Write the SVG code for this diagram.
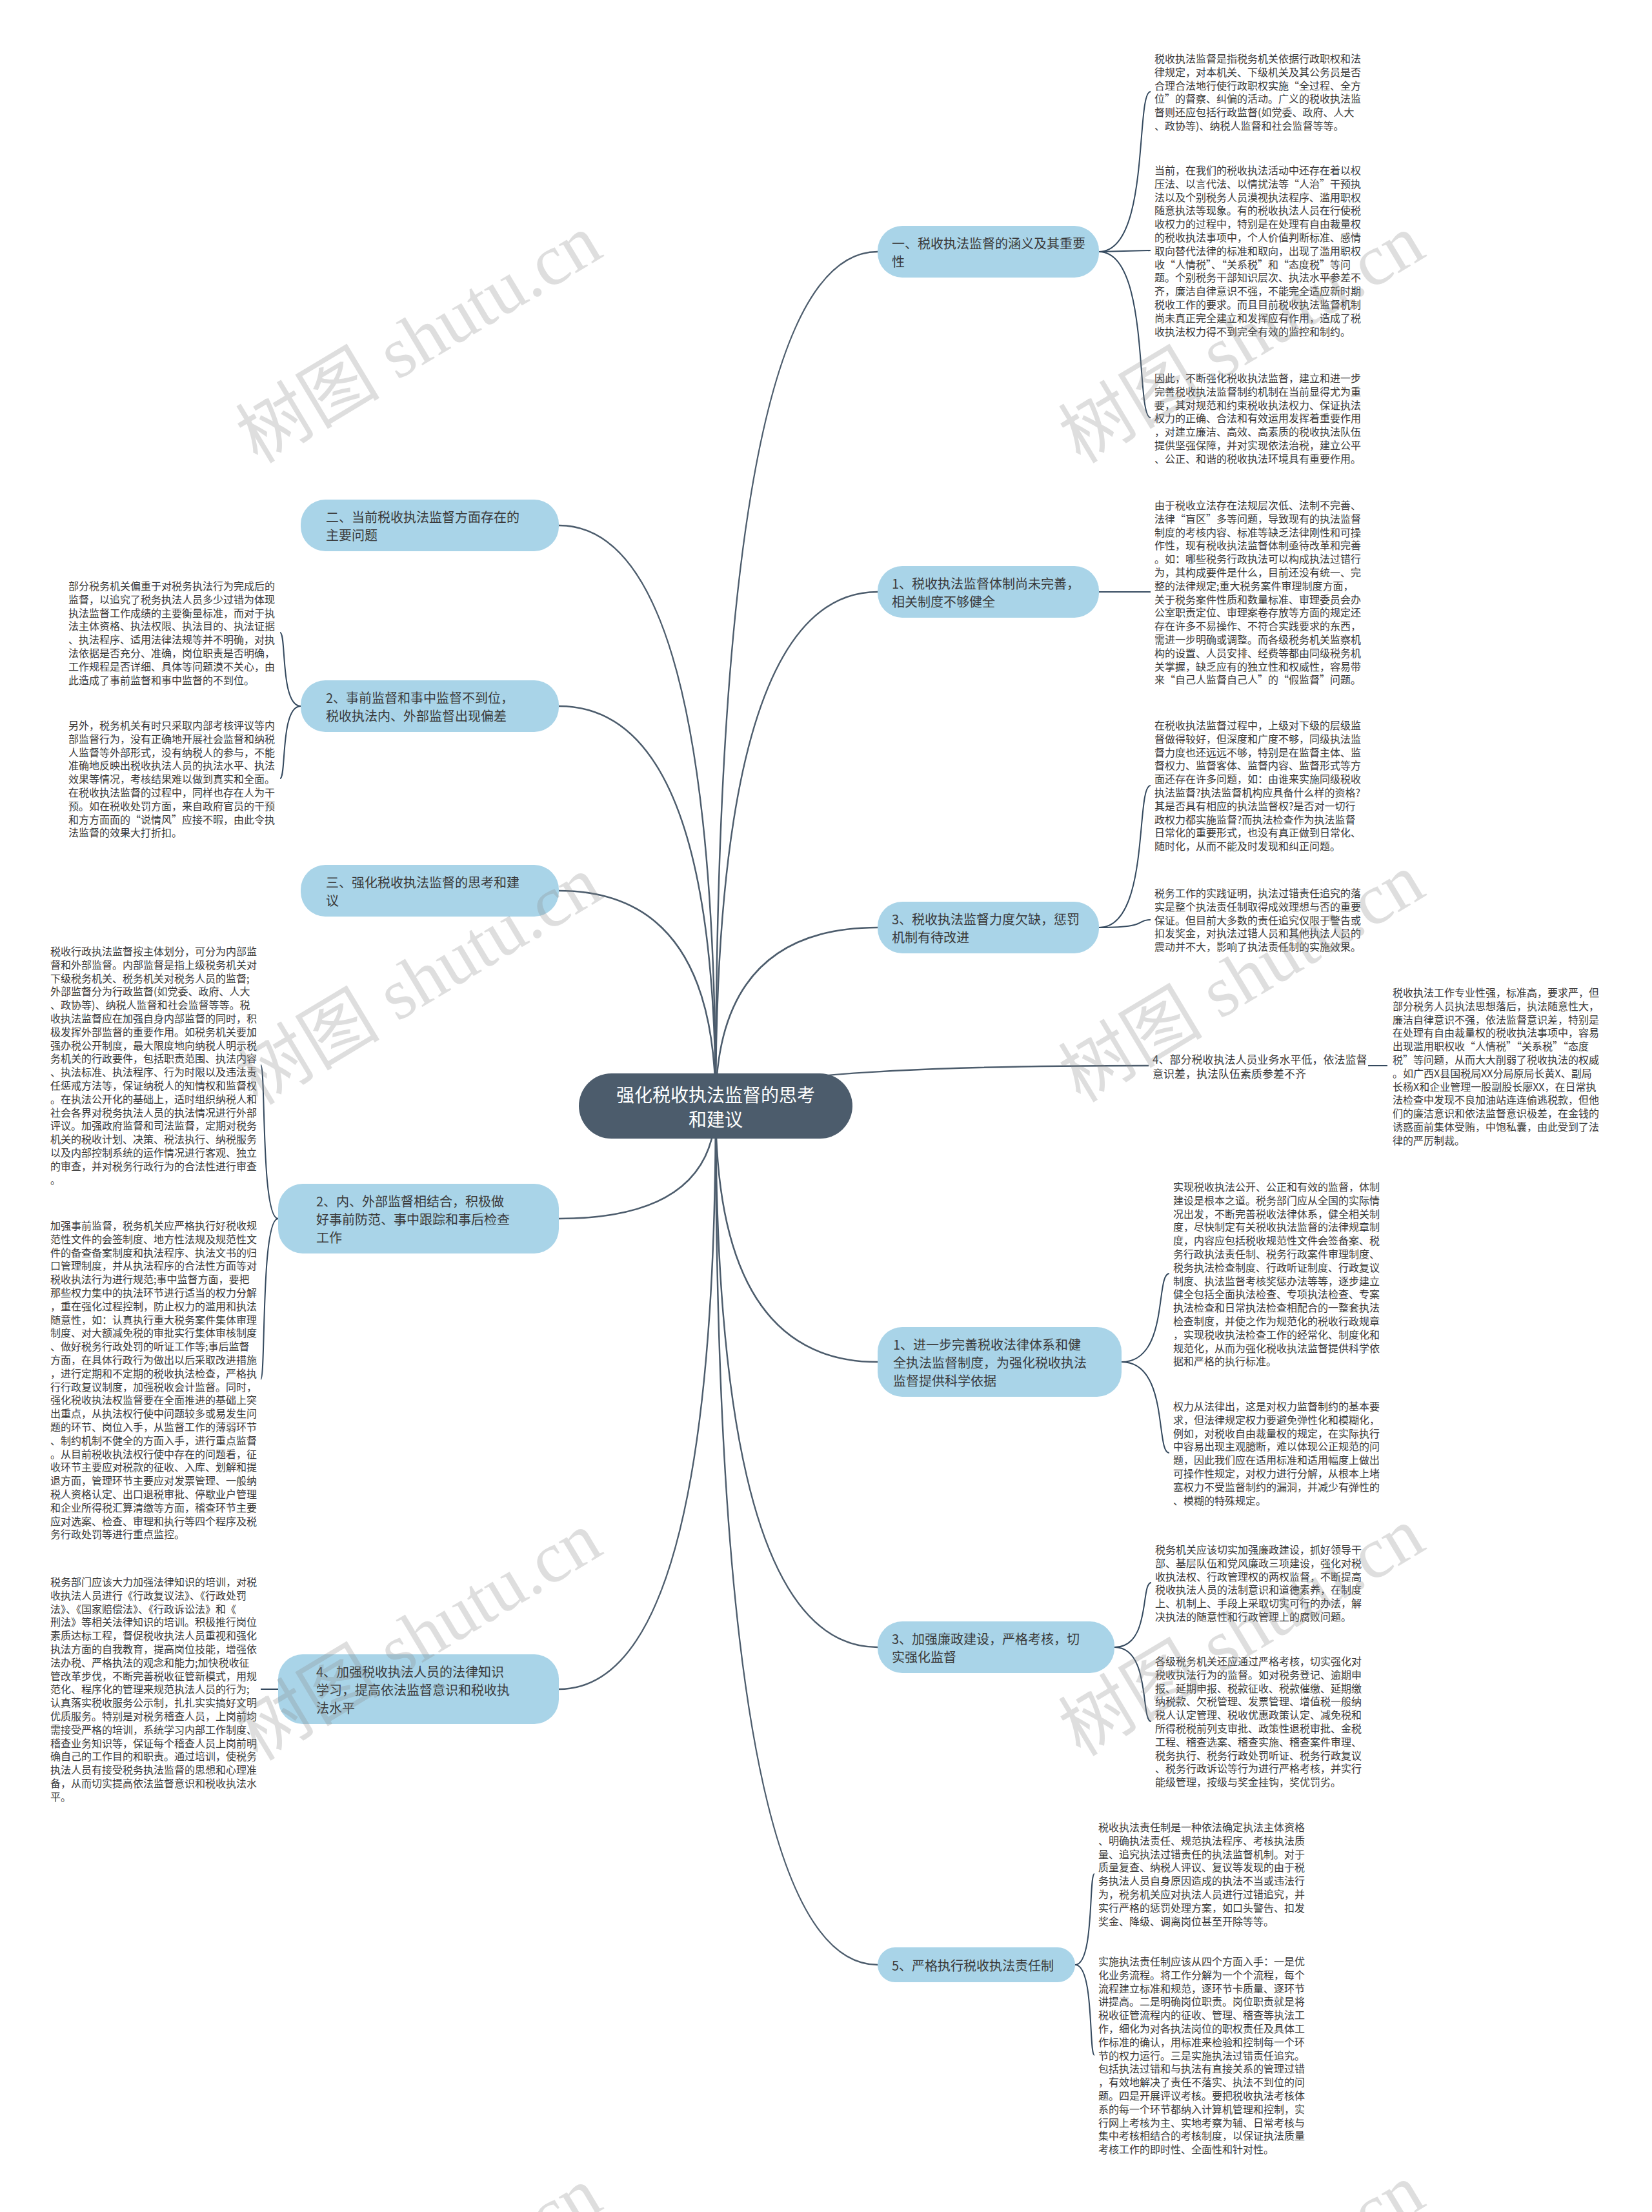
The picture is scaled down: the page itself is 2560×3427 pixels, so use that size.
<svg xmlns="http://www.w3.org/2000/svg" width="2560" height="3427" viewBox="0 0 2560 3427">
<style>
.bg{fill:#ffffff}
.root rect{fill:#4c5c6c}
.root text{font-family:"Noto Sans CJK SC","Liberation Sans",sans-serif;font-size:28px;fill:#ffffff;text-anchor:middle;dominant-baseline:central}
.n1 rect{fill:#a9d4e8}
.n1 text,.n2 text{font-family:"Noto Sans CJK SC","Liberation Sans",sans-serif;font-size:20px;fill:#3a3a3a;dominant-baseline:central}
.n2 text{font-size:17px}
.d text{font-family:"Noto Sans CJK SC","Liberation Sans",sans-serif;font-size:16px;fill:#3a3a3a;dominant-baseline:central}
.edges path{fill:none;stroke:#4c5c6c;stroke-width:2.5}
.edges .e2{stroke:#34495e;stroke-width:2}
.wm text{font-family:"Liberation Serif","Noto Sans CJK SC",serif;font-size:112px;fill:#8a8a8a;fill-opacity:0.28;text-anchor:middle;dominant-baseline:central}
</style>
<rect class="bg" x="0" y="0" width="2560" height="3427"/>
<g class="edges" id="connectors">
<!-- root to level 1 -->
<path d="M1109 1713 Q1109 390 1360 390"/>
<path d="M1109 1713 Q1109 917 1360 917"/>
<path d="M1109 1713 Q1109 1437 1360 1437"/>
<path d="M1109 1713 Q1109 1651 1780 1651"/>
<path d="M1109 1713 Q1109 2110 1360 2110"/>
<path d="M1109 1713 Q1109 2552 1360 2552"/>
<path d="M1109 1713 Q1109 3044 1360 3044"/>
<path d="M1109 1713 Q1109 814 866 814"/>
<path d="M1109 1713 Q1109 1094 866 1094"/>
<path d="M1109 1713 Q1109 1380 866 1380"/>
<path d="M1109 1713 Q1109 1888 866 1888"/>
<path d="M1109 1713 Q1109 2617 866 2617"/>
<!-- level 1 to details -->
<path class="e2" d="M1703 390 C1783 390 1759 142 1783 142"/>
<path class="e2" d="M1703 390 L1783 388"/>
<path class="e2" d="M1703 390 C1783 390 1759 647 1783 647"/>
<path class="e2" d="M1703 917 L1783 917"/>
<path class="e2" d="M1703 1437 C1783 1437 1759 1217 1783 1217"/>
<path class="e2" d="M1703 1437 C1783 1437 1759 1425 1783 1425"/>
<path class="e2" d="M2120 1651 L2150 1651"/>
<path class="e2" d="M1738 2110 C1812 2110 1790 1973 1812 1973"/>
<path class="e2" d="M1738 2110 C1812 2110 1790 2251 1812 2251"/>
<path class="e2" d="M1727 2552 C1784 2552 1767 2452 1784 2452"/>
<path class="e2" d="M1727 2552 C1784 2552 1767 2667 1784 2667"/>
<path class="e2" d="M1666 3044 C1696 3044 1687 2903 1696 2903"/>
<path class="e2" d="M1666 3044 C1696 3044 1687 3184 1696 3184"/>
<path class="e2" d="M466 1094 C434 1094 444 980 434 980"/>
<path class="e2" d="M466 1094 C434 1094 444 1206 434 1206"/>
<path class="e2" d="M431 1888 C404 1888 412 1650 404 1650"/>
<path class="e2" d="M431 1888 C404 1888 412 2137 404 2137"/>
<path class="e2" d="M431 2617 L404 2617"/>
</g>

<g class="root" id="root">
<rect x="897" y="1663" width="424" height="101" rx="50.5"/>
<text x="1109" y="1695">强化税收执法监督的思考</text>
<text x="1109" y="1733">和建议</text>
</g>

<g class="n1" id="n-r1"><rect x="1360" y="350" width="343" height="80" rx="38"/><text x="1382" y="376">一、税收执法监督的涵义及其重要</text><text x="1382" y="404">性</text></g>
<g class="n1" id="n-r2"><rect x="1360" y="877" width="343" height="80" rx="38"/><text x="1382" y="903">1、税收执法监督体制尚未完善，</text><text x="1382" y="931">相关制度不够健全</text></g>
<g class="n1" id="n-r3"><rect x="1360" y="1397" width="343" height="80" rx="38"/><text x="1382" y="1423">3、税收执法监督力度欠缺，惩罚</text><text x="1382" y="1451">机制有待改进</text></g>
<g class="n2" id="n-r4"><text x="1786" y="1640">4、部分税收执法人员业务水平低，依法监督</text><text x="1786" y="1662">意识差，执法队伍素质参差不齐</text></g>
<g class="n1" id="n-r5"><rect x="1360" y="2056" width="378" height="108" rx="38"/><text x="1384" y="2082">1、进一步完善税收法律体系和健</text><text x="1384" y="2110">全执法监督制度，为强化税收执法</text><text x="1384" y="2138">监督提供科学依据</text></g>
<g class="n1" id="n-r6"><rect x="1360" y="2512" width="367" height="80" rx="38"/><text x="1382" y="2538">3、加强廉政建设，严格考核，切</text><text x="1382" y="2566">实强化监督</text></g>
<g class="n1" id="n-r7"><rect x="1360" y="3017" width="306" height="54" rx="27"/><text x="1382" y="3044">5、严格执行税收执法责任制</text></g>

<g class="n1" id="n-l1"><rect x="466" y="774" width="400" height="80" rx="38"/><text x="505" y="800">二、当前税收执法监督方面存在的</text><text x="505" y="828">主要问题</text></g>
<g class="n1" id="n-l2"><rect x="466" y="1054" width="400" height="80" rx="38"/><text x="505" y="1080">2、事前监督和事中监督不到位，</text><text x="505" y="1108">税收执法内、外部监督出现偏差</text></g>
<g class="n1" id="n-l3"><rect x="466" y="1340" width="400" height="80" rx="38"/><text x="505" y="1366">三、强化税收执法监督的思考和建</text><text x="505" y="1394">议</text></g>
<g class="n1" id="n-l4"><rect x="431" y="1834" width="435" height="108" rx="38"/><text x="490" y="1860">2、内、外部监督相结合，积极做</text><text x="490" y="1888">好事前防范、事中跟踪和事后检查</text><text x="490" y="1916">工作</text></g>
<g class="n1" id="n-l5"><rect x="431" y="2563" width="435" height="108" rx="38"/><text x="490" y="2589">4、加强税收执法人员的法律知识</text><text x="490" y="2617">学习，提高依法监督意识和税收执</text><text x="490" y="2645">法水平</text></g>

<g class="d" id="d1"><text y="90"><tspan x="1789">税收执法监督是指税务机关依据行政职权和法</tspan><tspan x="1789" dy="20.8">律规定，对本机关、下级机关及其公务员是否</tspan><tspan x="1789" dy="20.8">合理合法地行使行政职权实施“全过程、全方</tspan><tspan x="1789" dy="20.8">位”的督察、纠偏的活动。广义的税收执法监</tspan><tspan x="1789" dy="20.8">督则还应包括行政监督(如党委、政府、人大</tspan><tspan x="1789" dy="20.8">、政协等)、纳税人监督和社会监督等等。</tspan></text></g>
<g class="d" id="d2"><text y="263"><tspan x="1789">当前，在我们的税收执法活动中还存在着以权</tspan><tspan x="1789" dy="20.8">压法、以言代法、以情扰法等“人治”干预执</tspan><tspan x="1789" dy="20.8">法以及个别税务人员漠视执法程序、滥用职权</tspan><tspan x="1789" dy="20.8">随意执法等现象。有的税收执法人员在行使税</tspan><tspan x="1789" dy="20.8">收权力的过程中，特别是在处理有自由裁量权</tspan><tspan x="1789" dy="20.8">的税收执法事项中，个人价值判断标准、感情</tspan><tspan x="1789" dy="20.8">取向替代法律的标准和取向，出现了滥用职权</tspan><tspan x="1789" dy="20.8">收“人情税”、“关系税”和“态度税”等问</tspan><tspan x="1789" dy="20.8">题。个别税务干部知识层次、执法水平参差不</tspan><tspan x="1789" dy="20.8">齐，廉洁自律意识不强，不能完全适应新时期</tspan><tspan x="1789" dy="20.8">税收工作的要求。而且目前税收执法监督机制</tspan><tspan x="1789" dy="20.8">尚未真正完全建立和发挥应有作用，造成了税</tspan><tspan x="1789" dy="20.8">收执法权力得不到完全有效的监控和制约。</tspan></text></g>
<g class="d" id="d3"><text y="585"><tspan x="1789">因此，不断强化税收执法监督，建立和进一步</tspan><tspan x="1789" dy="20.8">完善税收执法监督制约机制在当前显得尤为重</tspan><tspan x="1789" dy="20.8">要，其对规范和约束税收执法权力、保证执法</tspan><tspan x="1789" dy="20.8">权力的正确、合法和有效运用发挥着重要作用</tspan><tspan x="1789" dy="20.8">，对建立廉洁、高效、高素质的税收执法队伍</tspan><tspan x="1789" dy="20.8">提供坚强保障，并对实现依法治税，建立公平</tspan><tspan x="1789" dy="20.8">、公正、和谐的税收执法环境具有重要作用。</tspan></text></g>
<g class="d" id="d4"><text y="782"><tspan x="1789">由于税收立法存在法规层次低、法制不完善、</tspan><tspan x="1789" dy="20.8">法律“盲区”多等问题，导致现有的执法监督</tspan><tspan x="1789" dy="20.8">制度的考核内容、标准等缺乏法律刚性和可操</tspan><tspan x="1789" dy="20.8">作性，现有税收执法监督体制亟待改革和完善</tspan><tspan x="1789" dy="20.8">。如：哪些税务行政执法可以构成执法过错行</tspan><tspan x="1789" dy="20.8">为，其构成要件是什么，目前还没有统一、完</tspan><tspan x="1789" dy="20.8">整的法律规定;重大税务案件审理制度方面，</tspan><tspan x="1789" dy="20.8">关于税务案件性质和数量标准、审理委员会办</tspan><tspan x="1789" dy="20.8">公室职责定位、审理案卷存放等方面的规定还</tspan><tspan x="1789" dy="20.8">存在许多不易操作、不符合实践要求的东西，</tspan><tspan x="1789" dy="20.8">需进一步明确或调整。而各级税务机关监察机</tspan><tspan x="1789" dy="20.8">构的设置、人员安排、经费等都由同级税务机</tspan><tspan x="1789" dy="20.8">关掌握，缺乏应有的独立性和权威性，容易带</tspan><tspan x="1789" dy="20.8">来“自己人监督自己人”的“假监督”问题。</tspan></text></g>
<g class="d" id="d5"><text y="1123"><tspan x="1789">在税收执法监督过程中，上级对下级的层级监</tspan><tspan x="1789" dy="20.8">督做得较好，但深度和广度不够，同级执法监</tspan><tspan x="1789" dy="20.8">督力度也还远远不够，特别是在监督主体、监</tspan><tspan x="1789" dy="20.8">督权力、监督客体、监督内容、监督形式等方</tspan><tspan x="1789" dy="20.8">面还存在许多问题，如：由谁来实施同级税收</tspan><tspan x="1789" dy="20.8">执法监督?执法监督机构应具备什么样的资格?</tspan><tspan x="1789" dy="20.8">其是否具有相应的执法监督权?是否对一切行</tspan><tspan x="1789" dy="20.8">政权力都实施监督?而执法检查作为执法监督</tspan><tspan x="1789" dy="20.8">日常化的重要形式，也没有真正做到日常化、</tspan><tspan x="1789" dy="20.8">随时化，从而不能及时发现和纠正问题。</tspan></text></g>
<g class="d" id="d6"><text y="1383"><tspan x="1789">税务工作的实践证明，执法过错责任追究的落</tspan><tspan x="1789" dy="20.8">实是整个执法责任制取得成效理想与否的重要</tspan><tspan x="1789" dy="20.8">保证。但目前大多数的责任追究仅限于警告或</tspan><tspan x="1789" dy="20.8">扣发奖金，对执法过错人员和其他执法人员的</tspan><tspan x="1789" dy="20.8">震动并不大，影响了执法责任制的实施效果。</tspan></text></g>
<g class="d" id="d7"><text y="1537"><tspan x="2158">税收执法工作专业性强，标准高，要求严，但</tspan><tspan x="2158" dy="20.8">部分税务人员执法思想落后，执法随意性大，</tspan><tspan x="2158" dy="20.8">廉洁自律意识不强，依法监督意识差，特别是</tspan><tspan x="2158" dy="20.8">在处理有自由裁量权的税收执法事项中，容易</tspan><tspan x="2158" dy="20.8">出现滥用职权收“人情税”“关系税”“态度</tspan><tspan x="2158" dy="20.8">税”等问题，从而大大削弱了税收执法的权威</tspan><tspan x="2158" dy="20.8">。如广西X县国税局XX分局原局长黄X、副局</tspan><tspan x="2158" dy="20.8">长杨X和企业管理一股副股长廖XX，在日常执</tspan><tspan x="2158" dy="20.8">法检查中发现不良加油站连连偷逃税款，但他</tspan><tspan x="2158" dy="20.8">们的廉洁意识和依法监督意识极差，在金钱的</tspan><tspan x="2158" dy="20.8">诱惑面前集体受贿，中饱私囊，由此受到了法</tspan><tspan x="2158" dy="20.8">律的严厉制裁。</tspan></text></g>
<g class="d" id="d8"><text y="1838"><tspan x="1818">实现税收执法公开、公正和有效的监督，体制</tspan><tspan x="1818" dy="20.8">建设是根本之道。税务部门应从全国的实际情</tspan><tspan x="1818" dy="20.8">况出发，不断完善税收法律体系，健全相关制</tspan><tspan x="1818" dy="20.8">度，尽快制定有关税收执法监督的法律规章制</tspan><tspan x="1818" dy="20.8">度，内容应包括税收规范性文件会签备案、税</tspan><tspan x="1818" dy="20.8">务行政执法责任制、税务行政案件审理制度、</tspan><tspan x="1818" dy="20.8">税务执法检查制度、行政听证制度、行政复议</tspan><tspan x="1818" dy="20.8">制度、执法监督考核奖惩办法等等，逐步建立</tspan><tspan x="1818" dy="20.8">健全包括全面执法检查、专项执法检查、专案</tspan><tspan x="1818" dy="20.8">执法检查和日常执法检查相配合的一整套执法</tspan><tspan x="1818" dy="20.8">检查制度，并使之作为规范化的税收行政规章</tspan><tspan x="1818" dy="20.8">，实现税收执法检查工作的经常化、制度化和</tspan><tspan x="1818" dy="20.8">规范化，从而为强化税收执法监督提供科学依</tspan><tspan x="1818" dy="20.8">据和严格的执行标准。</tspan></text></g>
<g class="d" id="d9"><text y="2178"><tspan x="1818">权力从法律出，这是对权力监督制约的基本要</tspan><tspan x="1818" dy="20.8">求，但法律规定权力要避免弹性化和模糊化，</tspan><tspan x="1818" dy="20.8">例如，对税收自由裁量权的规定，在实际执行</tspan><tspan x="1818" dy="20.8">中容易出现主观臆断，难以体现公正规范的问</tspan><tspan x="1818" dy="20.8">题，因此我们应在适用标准和适用幅度上做出</tspan><tspan x="1818" dy="20.8">可操作性规定，对权力进行分解，从根本上堵</tspan><tspan x="1818" dy="20.8">塞权力不受监督制约的漏洞，并减少有弹性的</tspan><tspan x="1818" dy="20.8">、模糊的特殊规定。</tspan></text></g>
<g class="d" id="d10"><text y="2400"><tspan x="1790">税务机关应该切实加强廉政建设，抓好领导干</tspan><tspan x="1790" dy="20.8">部、基层队伍和党风廉政三项建设，强化对税</tspan><tspan x="1790" dy="20.8">收执法权、行政管理权的两权监督，不断提高</tspan><tspan x="1790" dy="20.8">税收执法人员的法制意识和道德素养，在制度</tspan><tspan x="1790" dy="20.8">上、机制上、手段上采取切实可行的办法，解</tspan><tspan x="1790" dy="20.8">决执法的随意性和行政管理上的腐败问题。</tspan></text></g>
<g class="d" id="d11"><text y="2573"><tspan x="1790">各级税务机关还应通过严格考核，切实强化对</tspan><tspan x="1790" dy="20.8">税收执法行为的监督。如对税务登记、逾期申</tspan><tspan x="1790" dy="20.8">报、延期申报、税款征收、税款催缴、延期缴</tspan><tspan x="1790" dy="20.8">纳税款、欠税管理、发票管理、增值税一般纳</tspan><tspan x="1790" dy="20.8">税人认定管理、税收优惠政策认定、减免税和</tspan><tspan x="1790" dy="20.8">所得税税前列支审批、政策性退税审批、金税</tspan><tspan x="1790" dy="20.8">工程、稽查选案、稽查实施、稽查案件审理、</tspan><tspan x="1790" dy="20.8">税务执行、税务行政处罚听证、税务行政复议</tspan><tspan x="1790" dy="20.8">、税务行政诉讼等行为进行严格考核，并实行</tspan><tspan x="1790" dy="20.8">能级管理，按级与奖金挂钩，奖优罚劣。</tspan></text></g>
<g class="d" id="d12"><text y="2830"><tspan x="1702">税收执法责任制是一种依法确定执法主体资格</tspan><tspan x="1702" dy="20.8">、明确执法责任、规范执法程序、考核执法质</tspan><tspan x="1702" dy="20.8">量、追究执法过错责任的执法监督机制。对于</tspan><tspan x="1702" dy="20.8">质量复查、纳税人评议、复议等发现的由于税</tspan><tspan x="1702" dy="20.8">务执法人员自身原因造成的执法不当或违法行</tspan><tspan x="1702" dy="20.8">为，税务机关应对执法人员进行过错追究，并</tspan><tspan x="1702" dy="20.8">实行严格的惩罚处理方案，如口头警告、扣发</tspan><tspan x="1702" dy="20.8">奖金、降级、调离岗位甚至开除等等。</tspan></text></g>
<g class="d" id="d13"><text y="3038"><tspan x="1702">实施执法责任制应该从四个方面入手：一是优</tspan><tspan x="1702" dy="20.8">化业务流程。将工作分解为一个个流程，每个</tspan><tspan x="1702" dy="20.8">流程建立标准和规范，逐环节卡质量、逐环节</tspan><tspan x="1702" dy="20.8">讲提高。二是明确岗位职责。岗位职责就是将</tspan><tspan x="1702" dy="20.8">税收征管流程内的征收、管理、稽查等执法工</tspan><tspan x="1702" dy="20.8">作，细化为对各执法岗位的职权责任及具体工</tspan><tspan x="1702" dy="20.8">作标准的确认，用标准来检验和控制每一个环</tspan><tspan x="1702" dy="20.8">节的权力运行。三是实施执法过错责任追究。</tspan><tspan x="1702" dy="20.8">包括执法过错和与执法有直接关系的管理过错</tspan><tspan x="1702" dy="20.8">，有效地解决了责任不落实、执法不到位的问</tspan><tspan x="1702" dy="20.8">题。四是开展评议考核。要把税收执法考核体</tspan><tspan x="1702" dy="20.8">系的每一个环节都纳入计算机管理和控制，实</tspan><tspan x="1702" dy="20.8">行网上考核为主、实地考察为辅、日常考核与</tspan><tspan x="1702" dy="20.8">集中考核相结合的考核制度，以保证执法质量</tspan><tspan x="1702" dy="20.8">考核工作的即时性、全面性和针对性。</tspan></text></g>

<g class="d" id="dl1"><text y="907"><tspan x="106">部分税务机关偏重于对税务执法行为完成后的</tspan><tspan x="106" dy="20.8">监督，以追究了税务执法人员多少过错为体现</tspan><tspan x="106" dy="20.8">执法监督工作成绩的主要衡量标准，而对于执</tspan><tspan x="106" dy="20.8">法主体资格、执法权限、执法目的、执法证据</tspan><tspan x="106" dy="20.8">、执法程序、适用法律法规等并不明确，对执</tspan><tspan x="106" dy="20.8">法依据是否充分、准确，岗位职责是否明确，</tspan><tspan x="106" dy="20.8">工作规程是否详细、具体等问题漠不关心，由</tspan><tspan x="106" dy="20.8">此造成了事前监督和事中监督的不到位。</tspan></text></g>
<g class="d" id="dl2"><text y="1123"><tspan x="106">另外，税务机关有时只采取内部考核评议等内</tspan><tspan x="106" dy="20.8">部监督行为，没有正确地开展社会监督和纳税</tspan><tspan x="106" dy="20.8">人监督等外部形式，没有纳税人的参与，不能</tspan><tspan x="106" dy="20.8">准确地反映出税收执法人员的执法水平、执法</tspan><tspan x="106" dy="20.8">效果等情况，考核结果难以做到真实和全面。</tspan><tspan x="106" dy="20.8">在税收执法监督的过程中，同样也存在人为干</tspan><tspan x="106" dy="20.8">预。如在税收处罚方面，来自政府官员的干预</tspan><tspan x="106" dy="20.8">和方方面面的“说情风”应接不暇，由此令执</tspan><tspan x="106" dy="20.8">法监督的效果大打折扣。</tspan></text></g>
<g class="d" id="dl3"><text y="1473"><tspan x="78">税收行政执法监督按主体划分，可分为内部监</tspan><tspan x="78" dy="20.8">督和外部监督。内部监督是指上级税务机关对</tspan><tspan x="78" dy="20.8">下级税务机关、税务机关对税务人员的监督;</tspan><tspan x="78" dy="20.8">外部监督分为行政监督(如党委、政府、人大</tspan><tspan x="78" dy="20.8">、政协等)、纳税人监督和社会监督等等。税</tspan><tspan x="78" dy="20.8">收执法监督应在加强自身内部监督的同时，积</tspan><tspan x="78" dy="20.8">极发挥外部监督的重要作用。如税务机关要加</tspan><tspan x="78" dy="20.8">强办税公开制度，最大限度地向纳税人明示税</tspan><tspan x="78" dy="20.8">务机关的行政要件，包括职责范围、执法内容</tspan><tspan x="78" dy="20.8">、执法标准、执法程序、行为时限以及违法责</tspan><tspan x="78" dy="20.8">任惩戒方法等，保证纳税人的知情权和监督权</tspan><tspan x="78" dy="20.8">。在执法公开化的基础上，适时组织纳税人和</tspan><tspan x="78" dy="20.8">社会各界对税务执法人员的执法情况进行外部</tspan><tspan x="78" dy="20.8">评议。加强政府监督和司法监督，定期对税务</tspan><tspan x="78" dy="20.8">机关的税收计划、决策、税法执行、纳税服务</tspan><tspan x="78" dy="20.8">以及内部控制系统的运作情况进行客观、独立</tspan><tspan x="78" dy="20.8">的审查，并对税务行政行为的合法性进行审查</tspan><tspan x="78" dy="20.8">。</tspan></text></g>
<g class="d" id="dl4"><text y="1898"><tspan x="78">加强事前监督，税务机关应严格执行好税收规</tspan><tspan x="78" dy="20.8">范性文件的会签制度、地方性法规及规范性文</tspan><tspan x="78" dy="20.8">件的备查备案制度和执法程序、执法文书的归</tspan><tspan x="78" dy="20.8">口管理制度，并从执法程序的合法性方面等对</tspan><tspan x="78" dy="20.8">税收执法行为进行规范;事中监督方面，要把</tspan><tspan x="78" dy="20.8">那些权力集中的执法环节进行适当的权力分解</tspan><tspan x="78" dy="20.8">，重在强化过程控制，防止权力的滥用和执法</tspan><tspan x="78" dy="20.8">随意性，如：认真执行重大税务案件集体审理</tspan><tspan x="78" dy="20.8">制度、对大额减免税的审批实行集体审核制度</tspan><tspan x="78" dy="20.8">、做好税务行政处罚的听证工作等;事后监督</tspan><tspan x="78" dy="20.8">方面，在具体行政行为做出以后采取改进措施</tspan><tspan x="78" dy="20.8">，进行定期和不定期的税收执法检查，严格执</tspan><tspan x="78" dy="20.8">行行政复议制度，加强税收会计监督。同时，</tspan><tspan x="78" dy="20.8">强化税收执法权监督要在全面推进的基础上突</tspan><tspan x="78" dy="20.8">出重点，从执法权行使中问题较多或易发生问</tspan><tspan x="78" dy="20.8">题的环节、岗位入手，从监督工作的薄弱环节</tspan><tspan x="78" dy="20.8">、制约机制不健全的方面入手，进行重点监督</tspan><tspan x="78" dy="20.8">。从目前税收执法权行使中存在的问题看，征</tspan><tspan x="78" dy="20.8">收环节主要应对税款的征收、入库、划解和提</tspan><tspan x="78" dy="20.8">退方面，管理环节主要应对发票管理、一般纳</tspan><tspan x="78" dy="20.8">税人资格认定、出口退税审批、停歇业户管理</tspan><tspan x="78" dy="20.8">和企业所得税汇算清缴等方面，稽查环节主要</tspan><tspan x="78" dy="20.8">应对选案、检查、审理和执行等四个程序及税</tspan><tspan x="78" dy="20.8">务行政处罚等进行重点监控。</tspan></text></g>
<g class="d" id="dl5"><text y="2450"><tspan x="78">税务部门应该大力加强法律知识的培训，对税</tspan><tspan x="78" dy="20.8">收执法人员进行《行政复议法》、《行政处罚</tspan><tspan x="78" dy="20.8">法》、《国家赔偿法》、《行政诉讼法》和《</tspan><tspan x="78" dy="20.8">刑法》等相关法律知识的培训。积极推行岗位</tspan><tspan x="78" dy="20.8">素质达标工程，督促税收执法人员重视和强化</tspan><tspan x="78" dy="20.8">执法方面的自我教育，提高岗位技能，增强依</tspan><tspan x="78" dy="20.8">法办税、严格执法的观念和能力;加快税收征</tspan><tspan x="78" dy="20.8">管改革步伐，不断完善税收征管新模式，用规</tspan><tspan x="78" dy="20.8">范化、程序化的管理来规范执法人员的行为;</tspan><tspan x="78" dy="20.8">认真落实税收服务公示制，扎扎实实搞好文明</tspan><tspan x="78" dy="20.8">优质服务。特别是对税务稽查人员，上岗前均</tspan><tspan x="78" dy="20.8">需接受严格的培训，系统学习内部工作制度、</tspan><tspan x="78" dy="20.8">稽查业务知识等，保证每个稽查人员上岗前明</tspan><tspan x="78" dy="20.8">确自己的工作目的和职责。通过培训，使税务</tspan><tspan x="78" dy="20.8">执法人员有接受税务执法监督的思想和心理准</tspan><tspan x="78" dy="20.8">备，从而切实提高依法监督意识和税收执法水</tspan><tspan x="78" dy="20.8">平。</tspan></text></g>

<g class="wm" id="watermarks">
<text x="649" y="525" transform="rotate(-31 649 525)">树图 shutu.cn</text>
<text x="1924" y="525" transform="rotate(-31 1924 525)">树图 shutu.cn</text>
<text x="649" y="1519" transform="rotate(-31 649 1519)">树图 shutu.cn</text>
<text x="1924" y="1515" transform="rotate(-31 1924 1515)">树图 shutu.cn</text>
<text x="649" y="2535" transform="rotate(-31 649 2535)">树图 shutu.cn</text>
<text x="1924" y="2528" transform="rotate(-31 1924 2528)">树图 shutu.cn</text>
<text x="649" y="3550" transform="rotate(-31 649 3550)">树图 shutu.cn</text>
<text x="1924" y="3545" transform="rotate(-31 1924 3545)">树图 shutu.cn</text>
</g>
</svg>
